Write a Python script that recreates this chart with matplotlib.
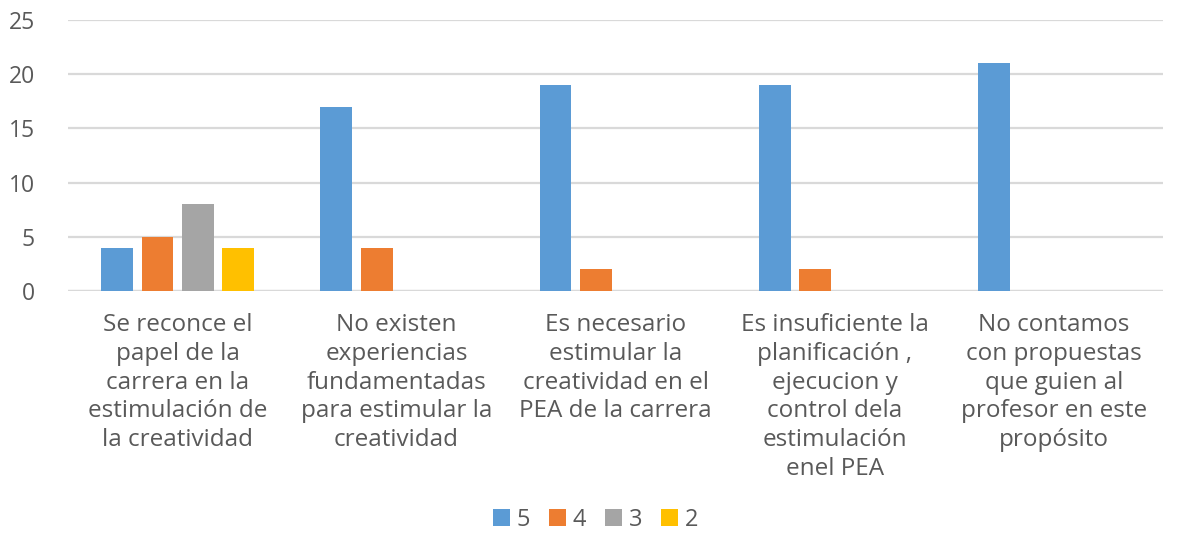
import numpy as np
import matplotlib.pyplot as plt

categories = [
    "Se reconce el\npapel de la\ncarrera en la\nestimulación de\nla creatividad",
    "No existen\nexperiencias\nfundamentadas\npara estimular la\ncreatividad",
    "Es necesario\nestimular la\ncreatividad en el\nPEA de la carrera",
    "Es insuficiente la\nplanificación ,\nejecucion y\ncontrol dela\nestimulación\nenel PEA",
    "No contamos\ncon propuestas\nque guien al\nprofesor en este\npropósito",
]
series_names = ["5", "4", "3", "2"]
v5 = [4, 17, 19, 19, 21]
v4 = [5, 4, 2, 2, 0]
v3 = [8, 0, 0, 0, 0]
v2 = [4, 0, 0, 0, 0]
yticks = [0, 5, 10, 15, 20, 25]

colors = ["#5b9bd5", "#ed7d31", "#a5a5a5", "#ffc000"]
text_color = "#595959"

plt.rcParams['font.family'] = ['Open Sans', 'DejaVu Sans']

fig = plt.figure(figsize=(11.87, 5.48), dpi=100)
ax = fig.add_axes([0.0573, 0.469, 0.9227, 0.4945])

x = np.arange(len(categories))
step = 0.183
width = 0.146
for i, (vals, name) in enumerate(zip([v5, v4, v3, v2], series_names)):
    ax.bar(x + (i - 1.5) * step, vals, width, color=colors[i], label=name, zorder=3)

ax.set_xlim(-0.5, len(categories) - 0.5)
ax.set_ylim(0, 25)
ax.set_yticks(yticks)
ax.yaxis.grid(True, color="#d9d9d9", linewidth=1.6, zorder=0)
ax.set_axisbelow(True)
for s in ax.spines.values():
    s.set_visible(False)
ax.axhline(0, color="#d9d9d9", linewidth=1.6, zorder=1)

ax.set_xticks(x)
ax.set_xticklabels(categories, fontsize=17.5, color=text_color, linespacing=1.26)
ax.tick_params(axis='x', length=0, pad=16)
ax.tick_params(axis='y', length=0, pad=24, labelsize=16.5, labelcolor=text_color)

leg = fig.legend(loc='center', bbox_to_anchor=(0.502, 0.052), ncol=4, frameon=False,
                 fontsize=17, handlelength=0.7, handleheight=0.7, handletextpad=0.3,
                 columnspacing=0.8)
for t in leg.get_texts():
    t.set_color(text_color)

fig.savefig("out.png", dpi=100)
